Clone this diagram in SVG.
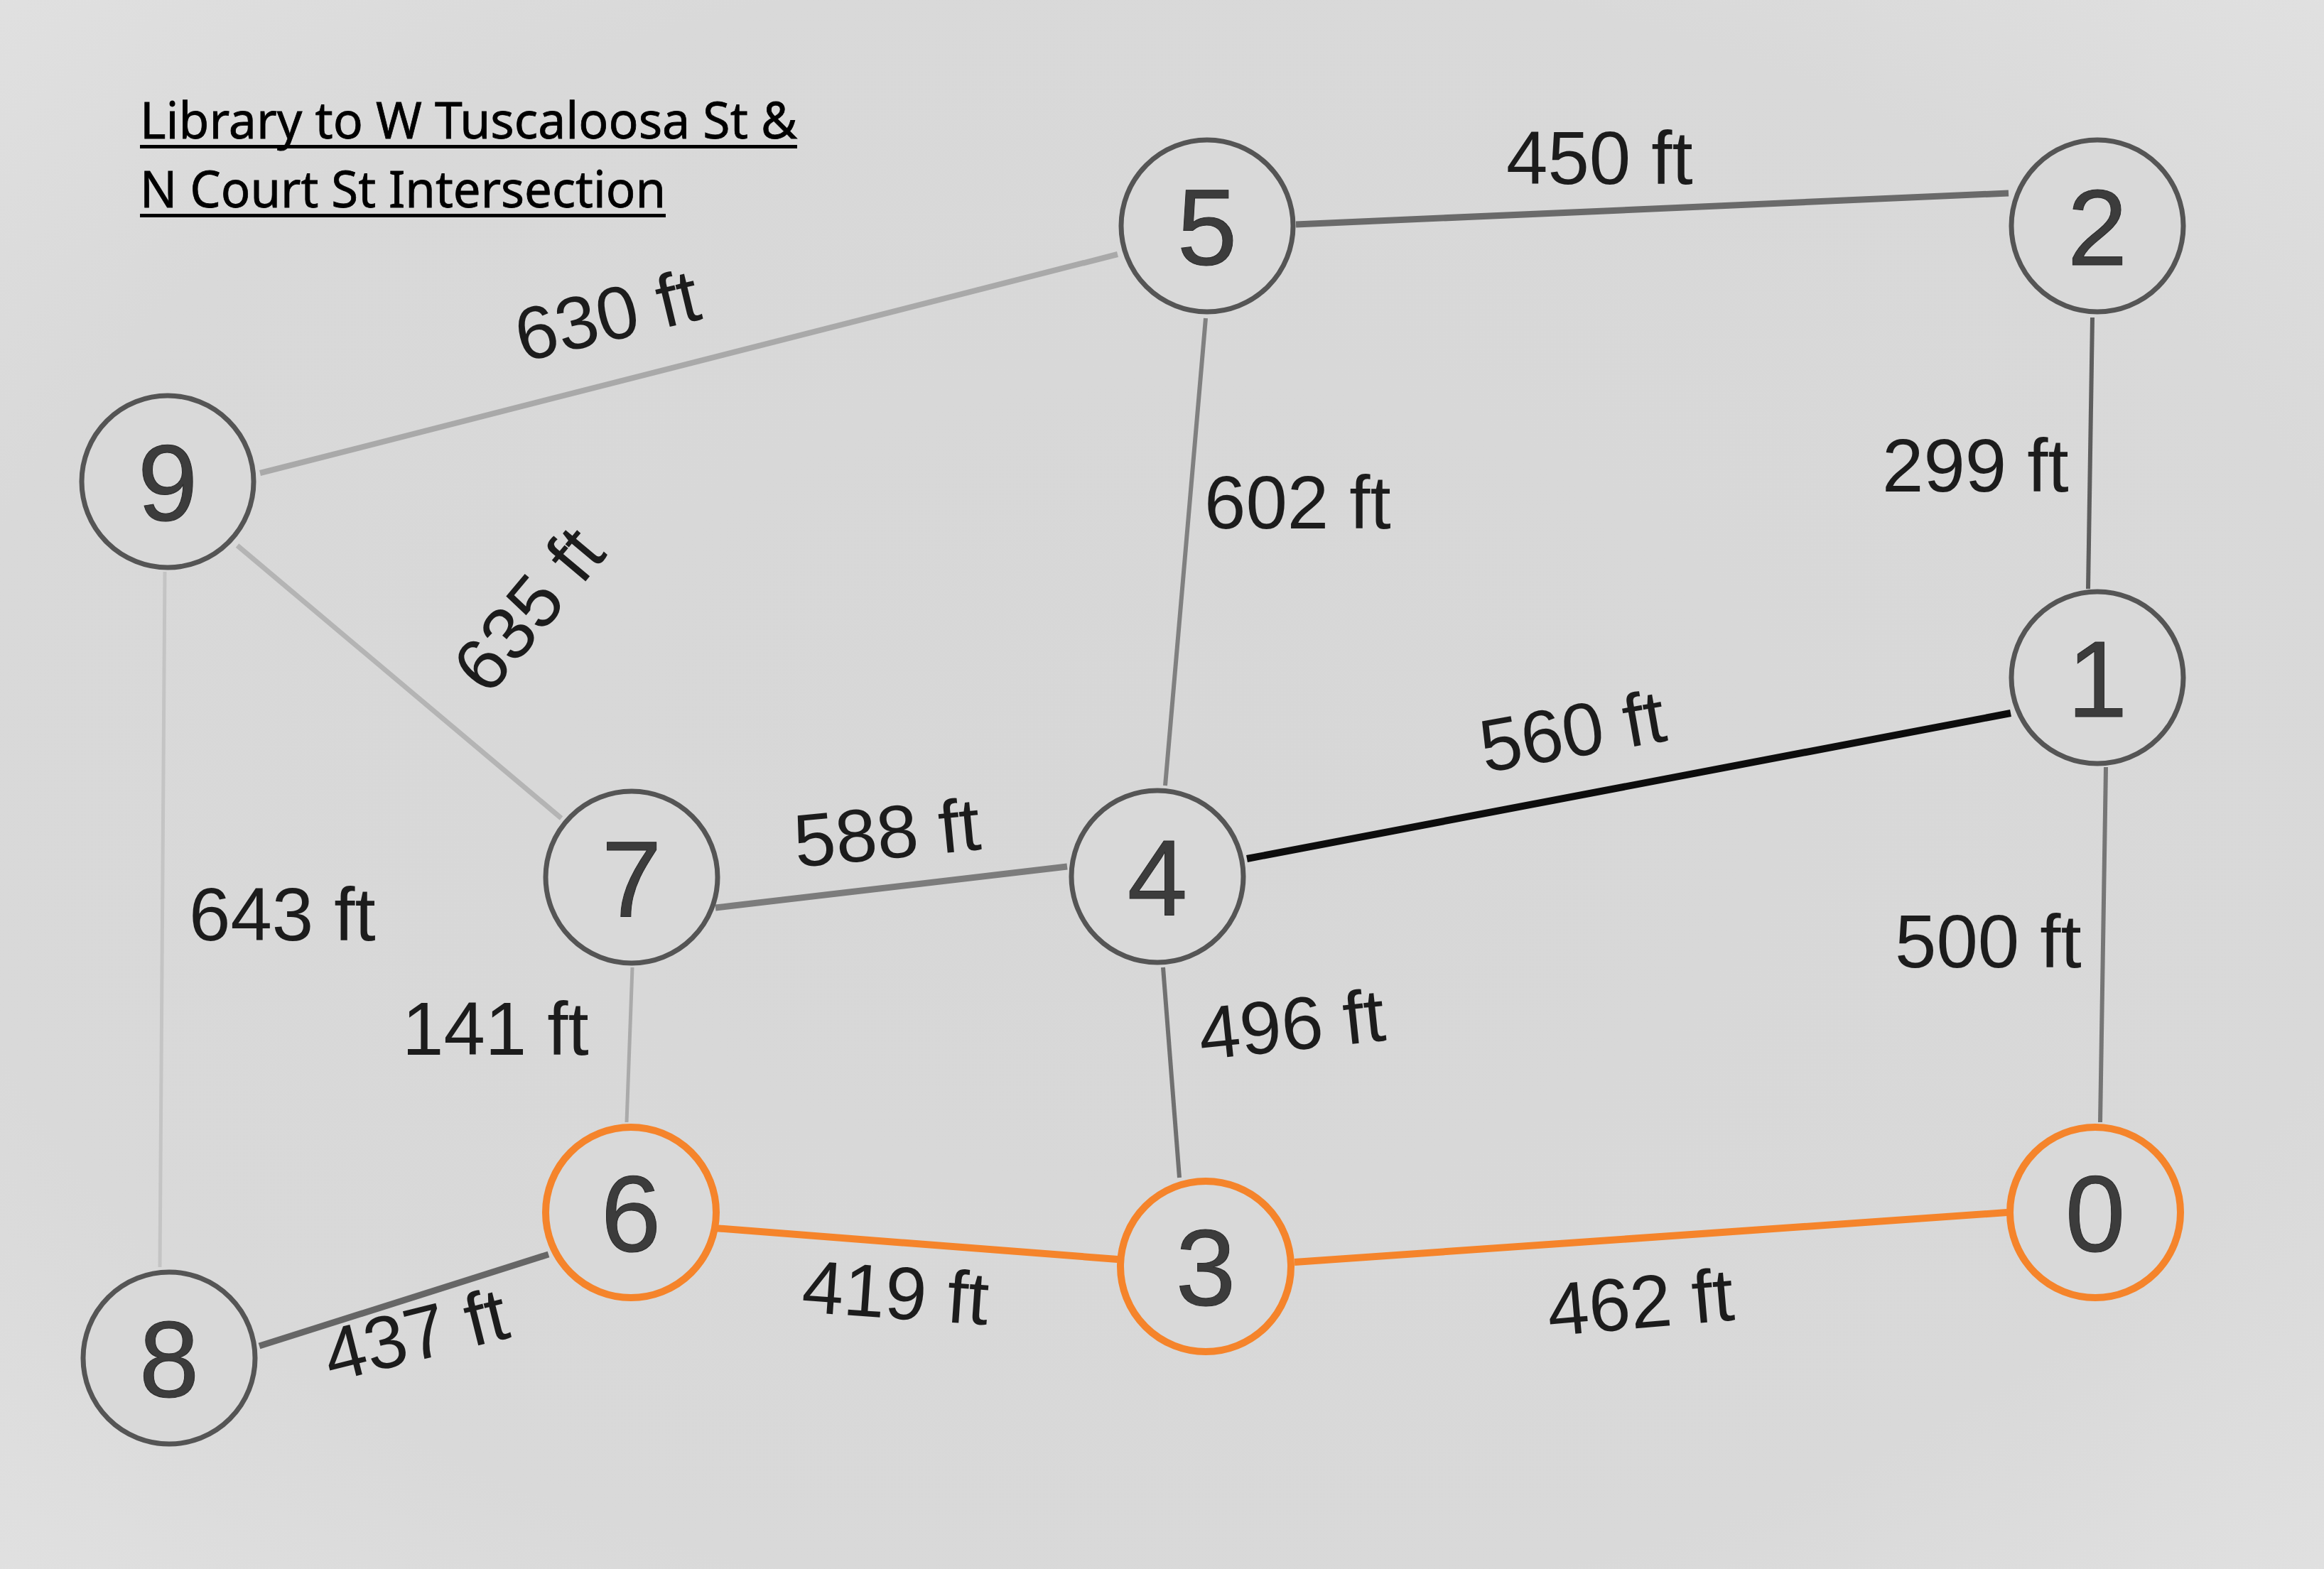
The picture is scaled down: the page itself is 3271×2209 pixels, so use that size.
<svg xmlns="http://www.w3.org/2000/svg" width="3271" height="2209" viewBox="0 0 3271 2209">
<defs>
<radialGradient id="bg" cx="50%" cy="50%" r="75%">
<stop offset="0" stop-color="#d7d7d7"/>
<stop offset="0.7" stop-color="#d9d9d9"/>
<stop offset="1" stop-color="#e2e2e2"/>
</radialGradient>
<style>
.edge{fill:none;stroke-linecap:butt}
.node circle{fill:#d9d9d9;stroke:#555555;stroke-width:7}
.node.hl circle{stroke:#f5842b;stroke-width:10}
.node text{font-family:"Liberation Sans",Arial,sans-serif;font-size:152px;fill:#3c3c3c;stroke:#2a2a2a;stroke-width:1;text-anchor:middle}
.lbl{font-family:"Liberation Sans",Arial,sans-serif;font-size:105px;fill:#1c1c1c}
.title{font-family:"Noto Sans","Open Sans",sans-serif;font-size:72px;fill:#000000;stroke:#000;stroke-width:0.8}
</style>
</defs>
<rect width="3271" height="2209" fill="url(#bg)"/>

<g id="title">
<text class="title" x="197" y="195" textLength="925" lengthAdjust="spacingAndGlyphs">Library to W Tuscaloosa St &amp;</text>
<rect x="197" y="204" width="925" height="5" fill="#000"/>
<text class="title" x="197" y="292" textLength="740" lengthAdjust="spacingAndGlyphs">N Court St Intersection</text>
<rect x="197" y="301" width="740" height="5" fill="#000"/>
</g>

<g id="connectors">
<line class="edge" x1="366" y1="666" x2="1573" y2="358" stroke="#a9a9a9" stroke-width="8"/>
<line class="edge" x1="334" y1="768" x2="790" y2="1152" stroke="#b4b4b4" stroke-width="7"/>
<line class="edge" x1="232" y1="805" x2="225" y2="1784" stroke="#c4c4c4" stroke-width="5"/>
<line class="edge" x1="1824" y1="316" x2="2827" y2="272" stroke="#6a6a6a" stroke-width="9"/>
<line class="edge" x1="1697" y1="448" x2="1640" y2="1106" stroke="#808080" stroke-width="6"/>
<line class="edge" x1="2945" y1="447" x2="2939" y2="829" stroke="#5e5e5e" stroke-width="6"/>
<line class="edge" x1="1755" y1="1209" x2="2830" y2="1004" stroke="#0d0d0d" stroke-width="10"/>
<line class="edge" x1="1007" y1="1278" x2="1502" y2="1220" stroke="#7c7c7c" stroke-width="9"/>
<line class="edge" x1="890" y1="1362" x2="882" y2="1580" stroke="#aaaaaa" stroke-width="5"/>
<line class="edge" x1="1637" y1="1362" x2="1660" y2="1658" stroke="#707070" stroke-width="6"/>
<line class="edge" x1="2964" y1="1080" x2="2956" y2="1580" stroke="#767676" stroke-width="6"/>
<line class="edge" x1="365" y1="1895" x2="772" y2="1766" stroke="#666666" stroke-width="9"/>
<line class="edge" x1="1005" y1="1729" x2="1573" y2="1773" stroke="#f5842b" stroke-width="10"/>
<line class="edge" x1="1822" y1="1777" x2="2825" y2="1707" stroke="#f5842b" stroke-width="10"/>
</g>

<g id="edge-labels">
<text class="lbl" transform="translate(735,510) rotate(-13.5)">630 ft</text>
<text class="lbl" transform="translate(687,982) rotate(-50)">635 ft</text>
<text class="lbl" x="266" y="1324">643 ft</text>
<text class="lbl" x="2120" y="259">450 ft</text>
<text class="lbl" x="1695" y="744">602 ft</text>
<text class="lbl" x="2649" y="692">299 ft</text>
<text class="lbl" transform="translate(2090,1088) rotate(-10)">560 ft</text>
<text class="lbl" transform="translate(1121,1221) rotate(-5.5)">588 ft</text>
<text class="lbl" x="566" y="1485">141 ft</text>
<text class="lbl" transform="translate(1691,1492) rotate(-6)">496 ft</text>
<text class="lbl" x="2667" y="1362">500 ft</text>
<text class="lbl" transform="translate(466,1946) rotate(-14)">437 ft</text>
<text class="lbl" transform="translate(1127,1847) rotate(4)">419 ft</text>
<text class="lbl" transform="translate(2181,1881) rotate(-5)">462 ft</text>
</g>

<g id="node-0" class="node hl"><circle cx="2949" cy="1707" r="120"/><text x="2949" y="1762">0</text></g>
<g id="node-1" class="node"><circle cx="2952" cy="954" r="121"/><text x="2952" y="1009">1</text></g>
<g id="node-2" class="node"><circle cx="2952" cy="318" r="121"/><text x="2952" y="373">2</text></g>
<g id="node-3" class="node hl"><circle cx="1697" cy="1783" r="120"/><text x="1697" y="1838">3</text></g>
<g id="node-4" class="node"><circle cx="1629" cy="1234" r="121"/><text x="1629" y="1289">4</text></g>
<g id="node-5" class="node"><circle cx="1699" cy="318" r="121"/><text x="1699" y="373">5</text></g>
<g id="node-6" class="node hl"><circle cx="888" cy="1707" r="120"/><text x="888" y="1762">6</text></g>
<g id="node-7" class="node"><circle cx="889" cy="1235" r="121"/><text x="889" y="1290">7</text></g>
<g id="node-8" class="node"><circle cx="238" cy="1912" r="121"/><text x="238" y="1967">8</text></g>
<g id="node-9" class="node"><circle cx="236" cy="678" r="121"/><text x="236" y="733">9</text></g>
</svg>
